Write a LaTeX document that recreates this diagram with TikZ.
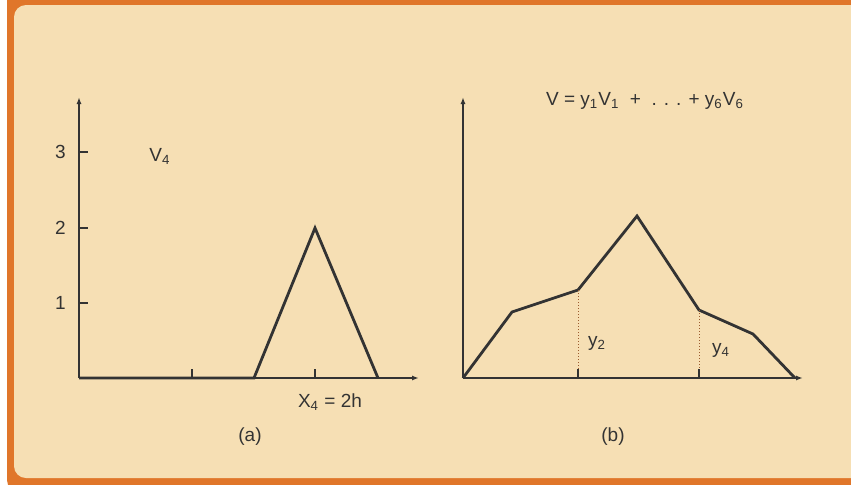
\documentclass[tikz,border=0pt]{standalone}
\usepackage{fontspec}
\setmainfont{Liberation Sans}
\usetikzlibrary{arrows.meta}

\definecolor{frameorange}{HTML}{E0762A}
\definecolor{panelfill}{HTML}{F6DFB4}
\definecolor{inkgray}{HTML}{333333}

\begin{document}
\begin{tikzpicture}[>={Latex[length=3.5pt,width=2.5pt]}, x=0.5pt, y=-0.5pt,
  font=\fontsize{9.5}{11}\selectfont, text=inkgray]
\tikzset{
  axis/.style={->, inkgray, line width=0.85pt},
  curve/.style={inkgray, line width=1.4pt, line join=miter},
  tick/.style={inkgray, line width=0.7pt},
  guide/.style={densely dotted, frameorange!60!inkgray, line width=0.5pt},
  lbl/.style={inner sep=0pt}
}
\useasboundingbox (0,0) rectangle (851,484);
\clip (0,0) rectangle (851,484);

% frame
\fill[white] (0,0) rectangle (851,484);
\fill[frameorange, rounded corners=6pt] (7,-12) rectangle (880,492);
\fill[panelfill, rounded corners=6pt] (14,5) rectangle (870,478);

% (a) single hat function
\coordinate (oa) at (79,378);
\coordinate (ya) at (79,97);
\coordinate (xa) at (419,378);
\draw[axis] (oa) -- (ya);
\draw[axis] (oa) -- (xa);
\foreach \v/\y in {1/303,2/228,3/152}{
  \draw[tick] (79,\y) -- (88,\y);
  \node[lbl, anchor=east] (n\v) at (66,\y) {\v};
}
\foreach \x in {192,315}
  \draw[tick] (\x,378) -- (\x,369);
\coordinate (ha) at (254,378);
\coordinate (hb) at (315,228);
\coordinate (hc) at (378,378);
\draw[curve] (oa) -- (ha) -- (hb) -- (hc);
\node[lbl] (v4) at (160,156) {V\textsubscript{4}};
\node[lbl] (x4) at (330,402) {X\textsubscript{4} = 2h};
\node[lbl] (capa) at (250,437) {(a)};

% (b) combination of hats
\coordinate (ob) at (463,378);
\coordinate (yb) at (463,97);
\coordinate (xb) at (803,378);
\draw[axis] (ob) -- (yb);
\draw[axis] (ob) -- (xb);
\coordinate (p1) at (512,312);
\coordinate (p2) at (578,290);
\coordinate (p3) at (637,216);
\coordinate (p4) at (699,310);
\coordinate (p5) at (753,334);
\coordinate (p6) at (795,378);
\draw[curve] (ob) -- (p1) -- (p2) -- (p3) -- (p4) -- (p5) -- (p6);
\foreach \p in {p2,p4}{
  \draw[guide] (\p) -- (\p |- ob);
  \draw[tick] ([yshift=4.5pt]\p |- ob) -- (\p |- ob);
}
\node[lbl] (y2) at (597,343) {y\textsubscript{2}};
\node[lbl] (y4) at (721,350) {y\textsubscript{4}};
\node[lbl] (sum) at (645,101)
  {V = y\textsubscript{1}V\textsubscript{1}\ \ + \ . . . + y\textsubscript{6}V\textsubscript{6}};
\node[lbl] (capb) at (613,437) {(b)};
\end{tikzpicture}
\end{document}
